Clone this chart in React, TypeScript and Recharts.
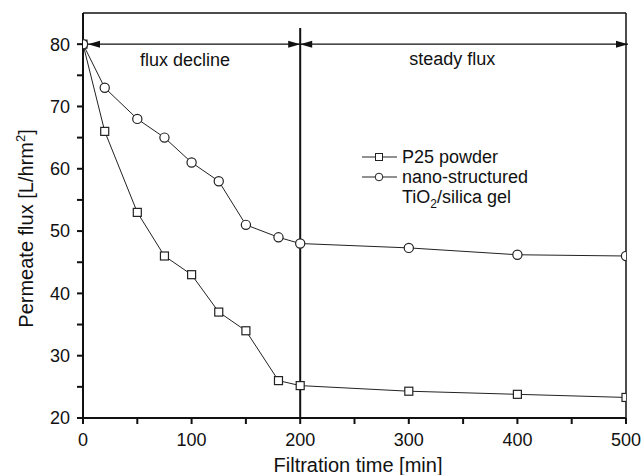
import React from 'react';
import { LineChart, Line, XAxis, YAxis, ReferenceLine, ReferenceDot, Legend } from 'recharts';

const times = [0, 20, 50, 75, 100, 125, 150, 180, 200, 300, 400, 500];
const p25Flux = [80, 66, 53, 46, 43, 37, 34, 26, 25.2, 24.3, 23.8, 23.3];
const nanoFlux = [80, 73, 68, 65, 61, 58, 51, 49, 48, 47.3, 46.2, 46.0];
const xTicks = [0, 50, 100, 150, 200, 250, 300, 350, 400, 450, 500];
const yTicks = [20, 25, 30, 35, 40, 45, 50, 55, 60, 65, 70, 75, 80];
const seriesNames = ['P25 powder', 'nano-structured'];
const phaseLabels = ['flux decline', 'steady flux'];

const data = times.map((t, i) => ({ t, p25: p25Flux[i], nano: nanoFlux[i] }));

const FONT = '"Liberation Sans", Arial, sans-serif';
const INK = '#111';

const SquareDot = (props: any) => {
  const { cx, cy, index } = props;
  if (cx == null || cy == null) return null;
  return <rect key={`s${index}`} x={cx - 4} y={cy - 4} width={8} height={8} fill="#fff" stroke="#222" strokeWidth={1.2} />;
};

const CircleDot = (props: any) => {
  const { cx, cy, index } = props;
  if (cx == null || cy == null) return null;
  return <circle key={`c${index}`} cx={cx} cy={cy} r={4.6} fill="#fff" stroke="#222" strokeWidth={1.2} />;
};

const makeArrow = (startInset: number, endInset: number) => (props: any) => {
  const { x1, y1, x2, y2 } = props;
  const a = Math.min(x1, x2) + startInset;
  const b = Math.max(x1, x2) + endInset;
  const y = y1;
  const L = 12;
  const W = 3.5;
  return (
    <g>
      <line x1={a} y1={y} x2={b} y2={y2} stroke={INK} strokeWidth={1.4} />
      <polygon points={`${a},${y} ${a + L},${y - W} ${a + L},${y + W}`} fill={INK} />
      <polygon points={`${b},${y} ${b - L},${y - W} ${b - L},${y + W}`} fill={INK} />
    </g>
  );
};

const LegendContent = () => (
  <svg width={180} height={70} style={{ overflow: 'visible', display: 'block' }}>
    <line x1={2} y1={12} x2={37} y2={12} stroke="#222" strokeWidth={1} />
    <rect x={15.5} y={8.5} width={7} height={7} fill="#fff" stroke="#222" strokeWidth={1} />
    <text x={42} y={18} fontFamily={FONT} fontSize={18} fill={INK}>{seriesNames[0]}</text>
    <line x1={2} y1={32} x2={37} y2={32} stroke="#222" strokeWidth={1} />
    <circle cx={19} cy={32} r={3.8} fill="#fff" stroke="#222" strokeWidth={1} />
    <text x={42} y={38} fontFamily={FONT} fontSize={18} fill={INK}>{seriesNames[1]}</text>
    <text x={42} y={58} fontFamily={FONT} fontSize={18} fill={INK}>
      TiO<tspan dy={5} fontSize={12}>2</tspan><tspan dy={-5}>/silica gel</tspan>
    </text>
  </svg>
);

export default function App() {
  return (
    <div style={{ position: 'absolute', left: 0, top: 0, width: 641, height: 475, background: '#fff' }}>
      <LineChart width={641} height={475} data={data} margin={{ top: 13, right: 15, left: 0, bottom: 0 }}>
        <XAxis
          dataKey="t"
          type="number"
          domain={[0, 500]}
          allowDataOverflow
          ticks={xTicks}
          tickFormatter={(v: number) => (v % 100 === 0 ? String(v) : '')}
          tickSize={6}
          tickMargin={9}
          height={57}
          stroke={INK}
          strokeWidth={2}
          tick={{ fill: INK, fontSize: 18, fontFamily: FONT }}
          label={{
            content: (p: any) => {
              const vb = p.viewBox || { x: 83, y: 418, width: 543, height: 57 };
              return (
                <text x={vb.x + vb.width / 2 + 3.5} y={vb.y + 54} textAnchor="middle" fontFamily={FONT} fontSize={20} fill={INK}>
                  Filtration time [min]
                </text>
              );
            },
          }}
        />
        <YAxis
          type="number"
          domain={[20, 85]}
          allowDataOverflow
          ticks={yTicks}
          tickFormatter={(v: number) => (v % 10 === 0 ? String(v) : '')}
          tickSize={6}
          tickMargin={7}
          width={83}
          stroke={INK}
          strokeWidth={2}
          tick={{ fill: INK, fontSize: 18, fontFamily: FONT }}
          label={{
            content: (p: any) => {
              const vb = p.viewBox || { x: 0, y: 13, width: 83, height: 405 };
              const cx = vb.x + 33;
              const cy = vb.y + vb.height / 2 + 13;
              return (
                <text x={cx} y={cy} transform={`rotate(-90, ${cx}, ${cy})`} textAnchor="middle" fontFamily={FONT} fontSize={20} fill={INK}>
                  Permeate flux [L/hrm<tspan dy={-8} fontSize={13}>2</tspan><tspan dy={8}>]</tspan>
                </text>
              );
            },
          }}
        />
        <ReferenceLine y={85} stroke={INK} strokeWidth={1.5} ifOverflow="visible" />
        <ReferenceLine x={500} stroke={INK} strokeWidth={1.5} ifOverflow="visible" />
        <Line dataKey="p25" stroke="#222" strokeWidth={1} dot={SquareDot} isAnimationActive={false} />
        <Line dataKey="nano" stroke="#222" strokeWidth={1} dot={CircleDot} isAnimationActive={false} />
        <ReferenceLine segment={[{ x: 200, y: 82.6 }, { x: 200, y: 20 }]} stroke={INK} strokeWidth={2} ifOverflow="visible" />
        <ReferenceLine segment={[{ x: 0, y: 80 }, { x: 200, y: 80 }]} shape={makeArrow(5, 0)} ifOverflow="visible" />
        <ReferenceLine segment={[{ x: 200, y: 80 }, { x: 500, y: 80 }]} shape={makeArrow(0, 2)} ifOverflow="visible" />
        <ReferenceDot x={94} y={77.5} r={0} fill="none" stroke="none" ifOverflow="visible"
          label={{ value: phaseLabels[0], position: 'center', fontSize: 18, fontFamily: FONT, fill: INK }} />
        <ReferenceDot x={340} y={77.7} r={0} fill="none" stroke="none" ifOverflow="visible"
          label={{ value: phaseLabels[1], position: 'center', fontSize: 18, fontFamily: FONT, fill: INK }} />
        <Legend
          layout="vertical"
          align="center"
          verticalAlign="middle"
          content={LegendContent}
          wrapperStyle={{ left: 360, top: 145, width: 180, height: 70, margin: 0 }}
        />
      </LineChart>
    </div>
  );
}
